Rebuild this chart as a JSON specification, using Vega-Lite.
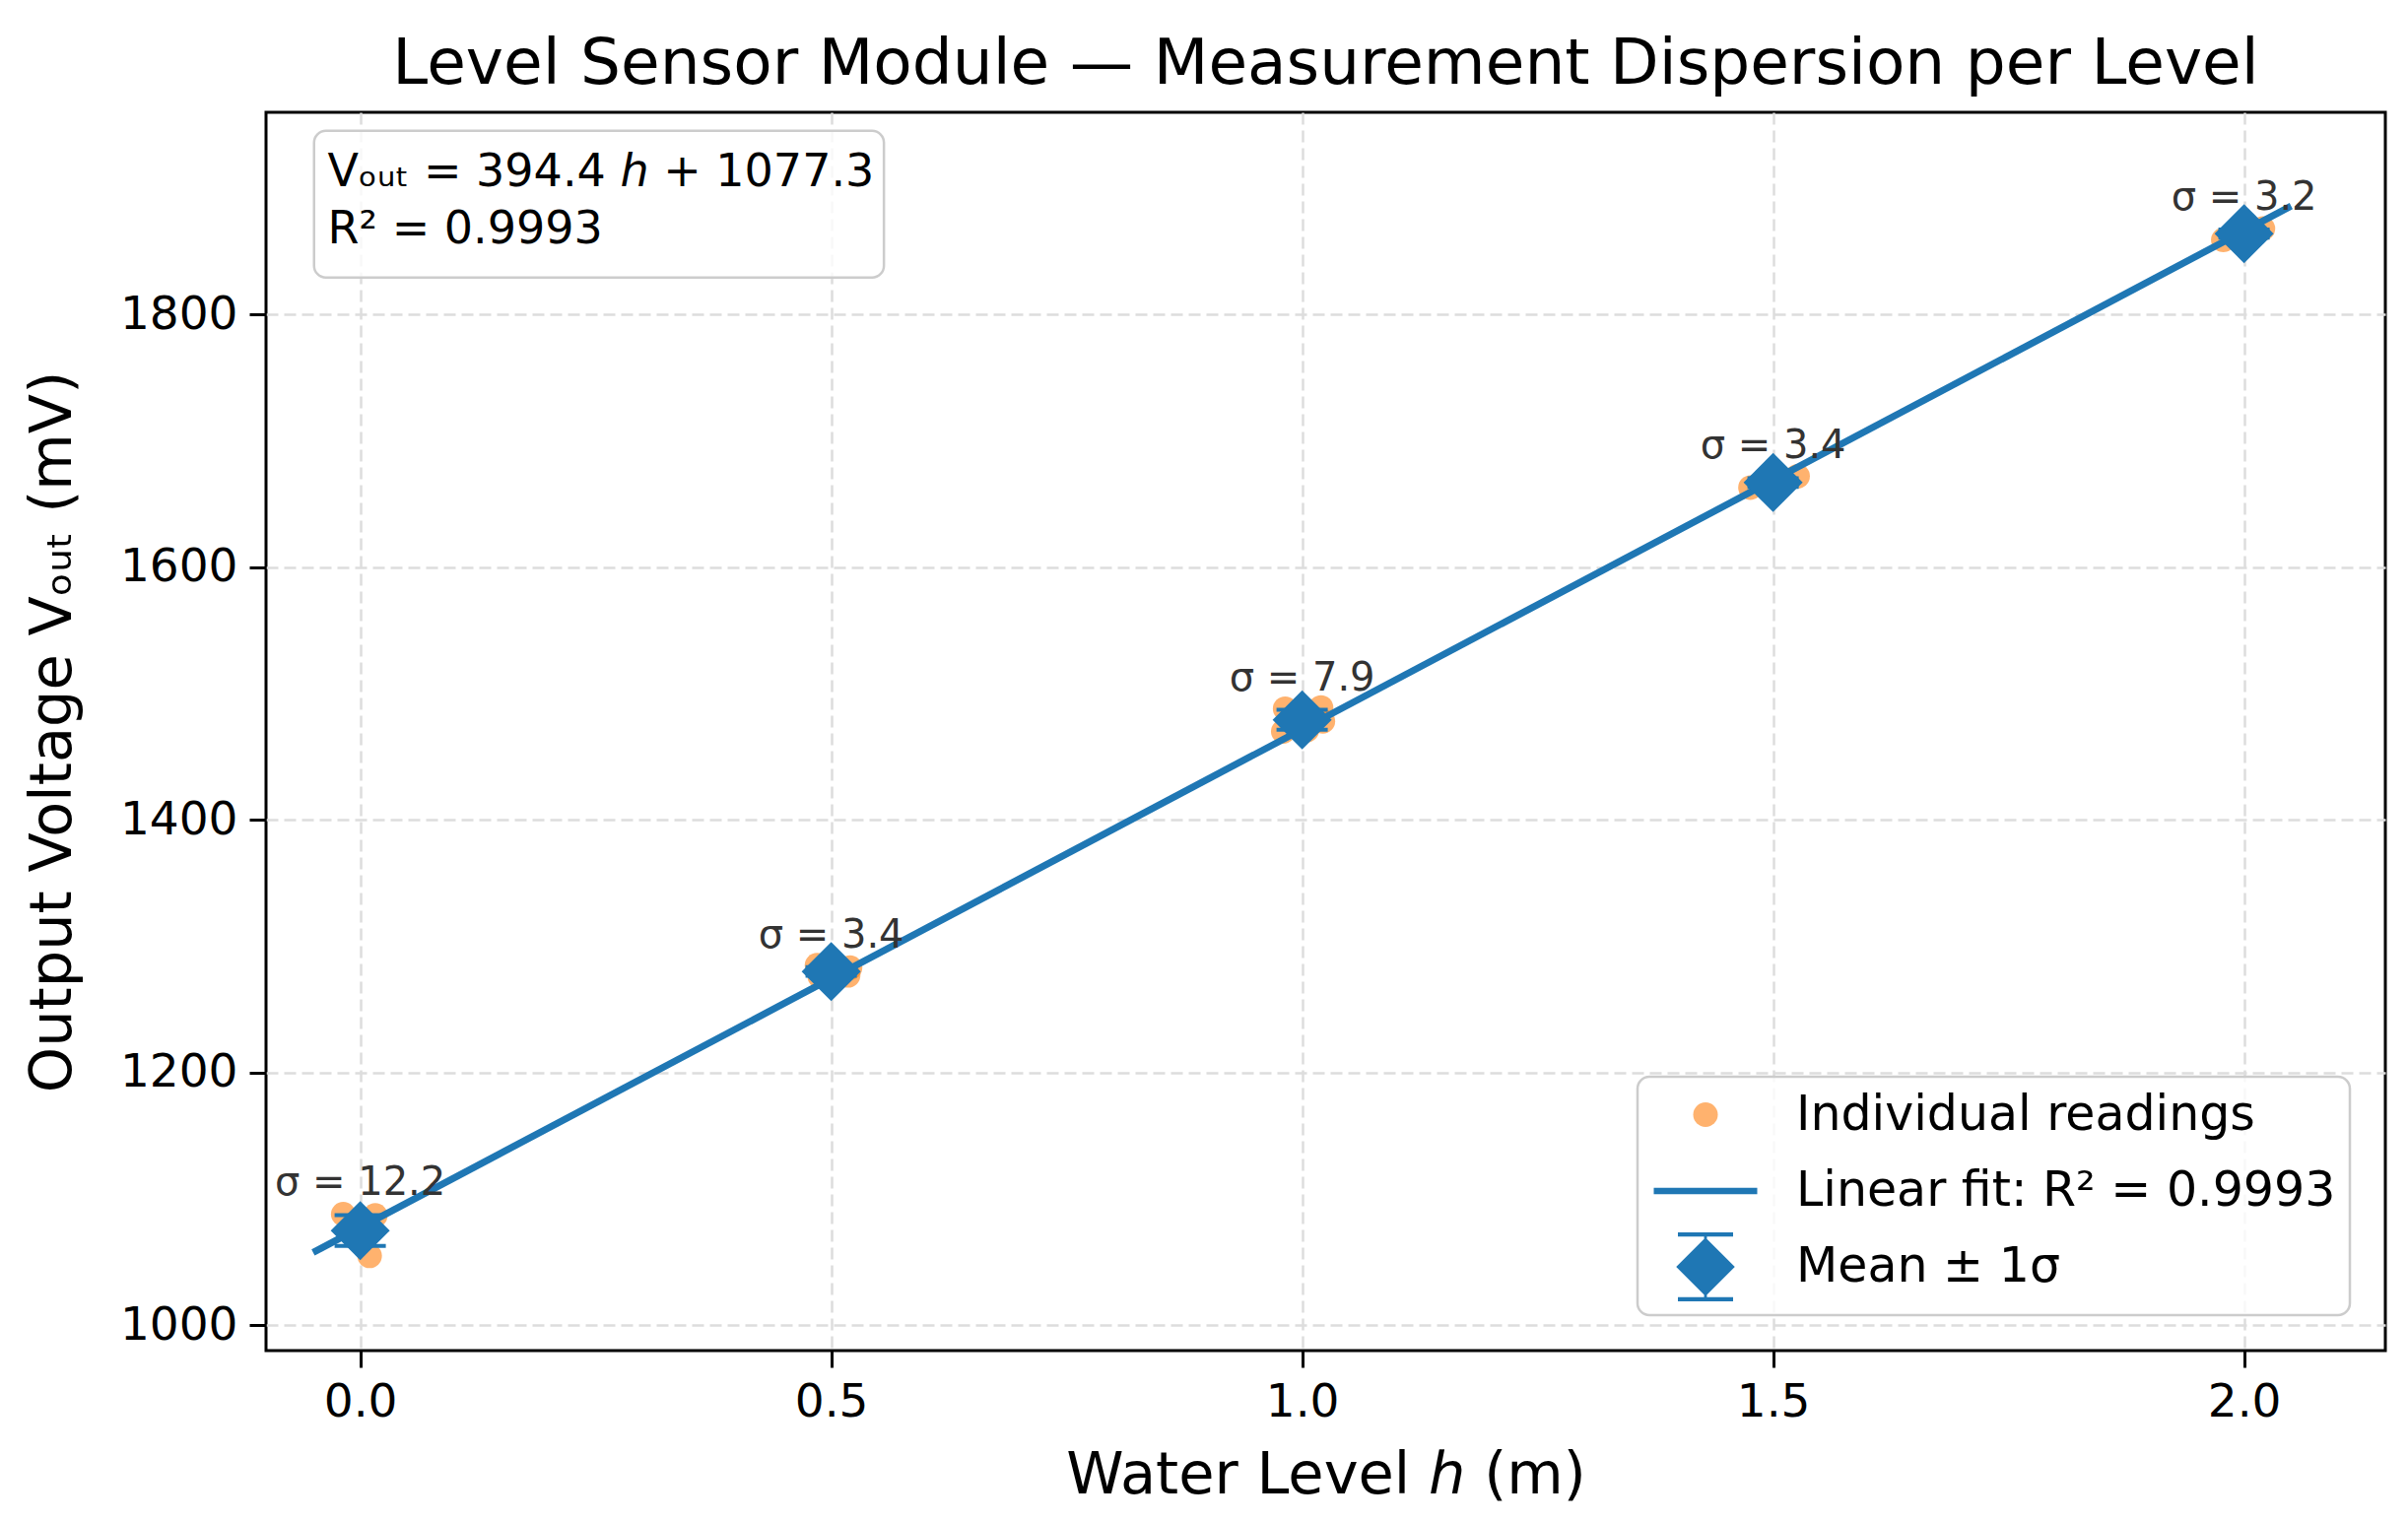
{
  "$schema": "https://vega.github.io/schema/vega-lite/v6.json",
  "width": 2151,
  "height": 1257,
  "autosize": {"type": "none"},
  "padding": {"left": 270, "top": 114, "right": 23, "bottom": 174},
  "background": "white",
  "config": {
    "font": "DejaVu Sans",
    "view": {"stroke": "black", "strokeWidth": 3},
    "axis": {
      "domain": false,
      "grid": true,
      "gridColor": "#dddddd",
      "gridDash": [12, 6],
      "gridWidth": 2.5,
      "tickColor": "black",
      "tickWidth": 3,
      "tickSize": 17,
      "labelFont": "DejaVu Sans",
      "labelFontSize": 47,
      "labelColor": "black",
      "labelPadding": 12,
      "titleFont": "DejaVu Sans",
      "titleFontSize": 59,
      "titleFontWeight": "normal",
      "titleColor": "black"
    },
    "legend": {
      "orient": "bottom-right",
      "offset": 36,
      "padding": 14,
      "fillColor": "rgba(255,255,255,0.8)",
      "strokeColor": "#cccccc",
      "strokeWidth": 2.5,
      "cornerRadius": 12,
      "labelFont": "DejaVu Sans",
      "labelFontSize": 49,
      "labelColor": "black",
      "labelOffset": 57,
      "symbolOffset": 20,
      "symbolStrokeWidth": 0,
      "rowPadding": 17,
      "labelLimit": 900
    }
  },
  "title": {
    "text": "Level Sensor Module — Measurement Dispersion per Level",
    "font": "DejaVu Sans",
    "fontSize": 64.5,
    "fontWeight": "normal",
    "color": "black",
    "anchor": "middle",
    "frame": "group",
    "offset": 16
  },
  "datasets": {
    "readings": [
      {"h": -0.018, "v": 1088}, {"h": 0.016, "v": 1087}, {"h": 0.01, "v": 1055}, {"h": -0.005, "v": 1075}, {"h": 0.004, "v": 1070},
      {"h": 0.485, "v": 1285}, {"h": 0.52, "v": 1283}, {"h": 0.488, "v": 1276}, {"h": 0.518, "v": 1277}, {"h": 0.5, "v": 1279},
      {"h": 0.982, "v": 1488}, {"h": 1.02, "v": 1489}, {"h": 0.98, "v": 1470}, {"h": 1.022, "v": 1478}, {"h": 1.005, "v": 1471},
      {"h": 1.526, "v": 1672}, {"h": 1.505, "v": 1670}, {"h": 1.476, "v": 1663}, {"h": 1.495, "v": 1664}, {"h": 1.51, "v": 1666},
      {"h": 2.02, "v": 1868}, {"h": 1.978, "v": 1859}, {"h": 2.008, "v": 1867}, {"h": 1.995, "v": 1863}, {"h": 2.004, "v": 1863}
    ],
    "fit": [
      {"h": -0.05, "v": 1057.6},
      {"h": 2.05, "v": 1885.8}
    ],
    "means": [
      {"h": 0.0, "mean": 1075.0, "lo": 1062.8, "hi": 1087.2, "label": "σ = 12.2"},
      {"h": 0.5, "mean": 1280.0, "lo": 1276.6, "hi": 1283.4, "label": "σ = 3.4"},
      {"h": 1.0, "mean": 1479.2, "lo": 1471.3, "hi": 1487.1, "label": "σ = 7.9"},
      {"h": 1.5, "mean": 1667.0, "lo": 1663.6, "hi": 1670.4, "label": "σ = 3.4"},
      {"h": 2.0, "mean": 1864.0, "lo": 1860.8, "hi": 1867.2, "label": "σ = 3.2"}
    ],
    "fitbox": [
      {"line1": "Vₒᵤₜ = 394.4 ℎ + 1077.3", "line2": "R² = 0.9993"}
    ]
  },
  "layer": [
    {
      "encoding": {
        "x": {
          "field": "h",
          "type": "quantitative",
          "scale": {"domain": [-0.1, 2.15], "nice": false, "zero": false},
          "axis": {"values": [0, 0.5, 1, 1.5, 2], "format": ".1f", "titlePadding": 22},
          "title": "Water Level ℎ (m)"
        },
        "y": {
          "field": "v",
          "type": "quantitative",
          "scale": {"domain": [980, 1960], "nice": false, "zero": false},
          "axis": {"values": [1000, 1200, 1400, 1600, 1800], "format": "d", "titlePadding": 38},
          "title": "Output Voltage Vₒᵤₜ (mV)"
        }
      },
      "layer": [
        {
          "data": {"name": "readings"},
          "mark": {"type": "point", "filled": true, "strokeWidth": 0},
          "encoding": {
            "color": {
              "datum": "Individual readings",
              "scale": {
                "domain": ["Individual readings", "Linear fit: R² = 0.9993", "Mean ± 1σ"],
                "range": ["#ff7f0e", "#1f77b4", "#1f77b4"]
              },
              "legend": {"title": null}
            },
            "shape": {
              "datum": "Individual readings",
              "scale": {
                "domain": ["Individual readings", "Linear fit: R² = 0.9993", "Mean ± 1σ"],
                "range": [
                  "circle",
                  "M-1.5,-0.09H1.5V0.09H-1.5Z",
                  "M-0.85,0L0,-0.85L0.85,0L0,0.85Z M-0.8,-1H0.8V-0.88H-0.8Z M-0.8,0.88H0.8V1H-0.8Z M-0.04,-1H0.04V1H-0.04Z"
                ]
              },
              "legend": {"title": null}
            },
            "size": {
              "datum": "Individual readings",
              "type": "nominal",
              "scale": {
                "type": "ordinal",
                "domain": ["Individual readings", "Linear fit: R² = 0.9993", "Mean ± 1σ"],
                "range": [625, 4900, 4900]
              },
              "legend": {"title": null}
            },
            "opacity": {
              "datum": "Individual readings",
              "type": "nominal",
              "scale": {
                "type": "ordinal",
                "domain": ["Individual readings", "Linear fit: R² = 0.9993", "Mean ± 1σ"],
                "range": [0.6, 1, 1]
              },
              "legend": {"title": null}
            }
          }
        },
        {
          "data": {"name": "fit"},
          "mark": {"type": "line", "strokeWidth": 7},
          "encoding": {
            "color": {"datum": "Linear fit: R² = 0.9993", "legend": {"title": null}}
          }
        },
        {
          "data": {"name": "means"},
          "mark": {"type": "rule", "strokeWidth": 3.5, "color": "#1f77b4"},
          "encoding": {
            "y": {"field": "lo", "type": "quantitative"},
            "y2": {"field": "hi"}
          }
        },
        {
          "data": {"name": "means"},
          "mark": {"type": "tick", "orient": "horizontal", "size": 52, "thickness": 4, "color": "#1f77b4", "opacity": 1},
          "encoding": {
            "y": {"field": "lo", "type": "quantitative"}
          }
        },
        {
          "data": {"name": "means"},
          "mark": {"type": "tick", "orient": "horizontal", "size": 52, "thickness": 4, "color": "#1f77b4", "opacity": 1},
          "encoding": {
            "y": {"field": "hi", "type": "quantitative"}
          }
        },
        {
          "data": {"name": "means"},
          "mark": {"type": "point", "shape": "diamond", "filled": true, "size": 3600, "opacity": 1, "strokeWidth": 0},
          "encoding": {
            "y": {"field": "mean", "type": "quantitative"},
            "color": {"datum": "Mean ± 1σ", "legend": {"title": null}}
          }
        },
        {
          "data": {"name": "means"},
          "mark": {"type": "text", "align": "center", "baseline": "alphabetic", "dy": -20, "fontSize": 40, "color": "#333333", "font": "DejaVu Sans"},
          "encoding": {
            "y": {"field": "hi", "type": "quantitative"},
            "text": {"field": "label"}
          }
        }
      ]
    },
    {
      "data": {"name": "fitbox"},
      "mark": {"type": "rect", "fill": "white", "fillOpacity": 0.8, "stroke": "#cccccc", "strokeWidth": 2.5, "cornerRadius": 12},
      "encoding": {
        "x": {"datum": -0.049, "type": "quantitative"},
        "x2": {"datum": 0.556},
        "y": {"datum": 1945.3, "type": "quantitative"},
        "y2": {"datum": 1829.3}
      }
    },
    {
      "data": {"name": "fitbox"},
      "mark": {"type": "text", "align": "left", "baseline": "alphabetic", "fontSize": 46, "color": "black", "font": "DejaVu Sans"},
      "encoding": {
        "x": {"datum": -0.0345, "type": "quantitative"},
        "y": {"datum": 1901.4, "type": "quantitative"},
        "text": {"field": "line1", "type": "nominal"}
      }
    },
    {
      "data": {"name": "fitbox"},
      "mark": {"type": "text", "align": "left", "baseline": "alphabetic", "fontSize": 46, "color": "black", "font": "DejaVu Sans"},
      "encoding": {
        "x": {"datum": -0.0345, "type": "quantitative"},
        "y": {"datum": 1856.2, "type": "quantitative"},
        "text": {"field": "line2", "type": "nominal"}
      }
    }
  ]
}
